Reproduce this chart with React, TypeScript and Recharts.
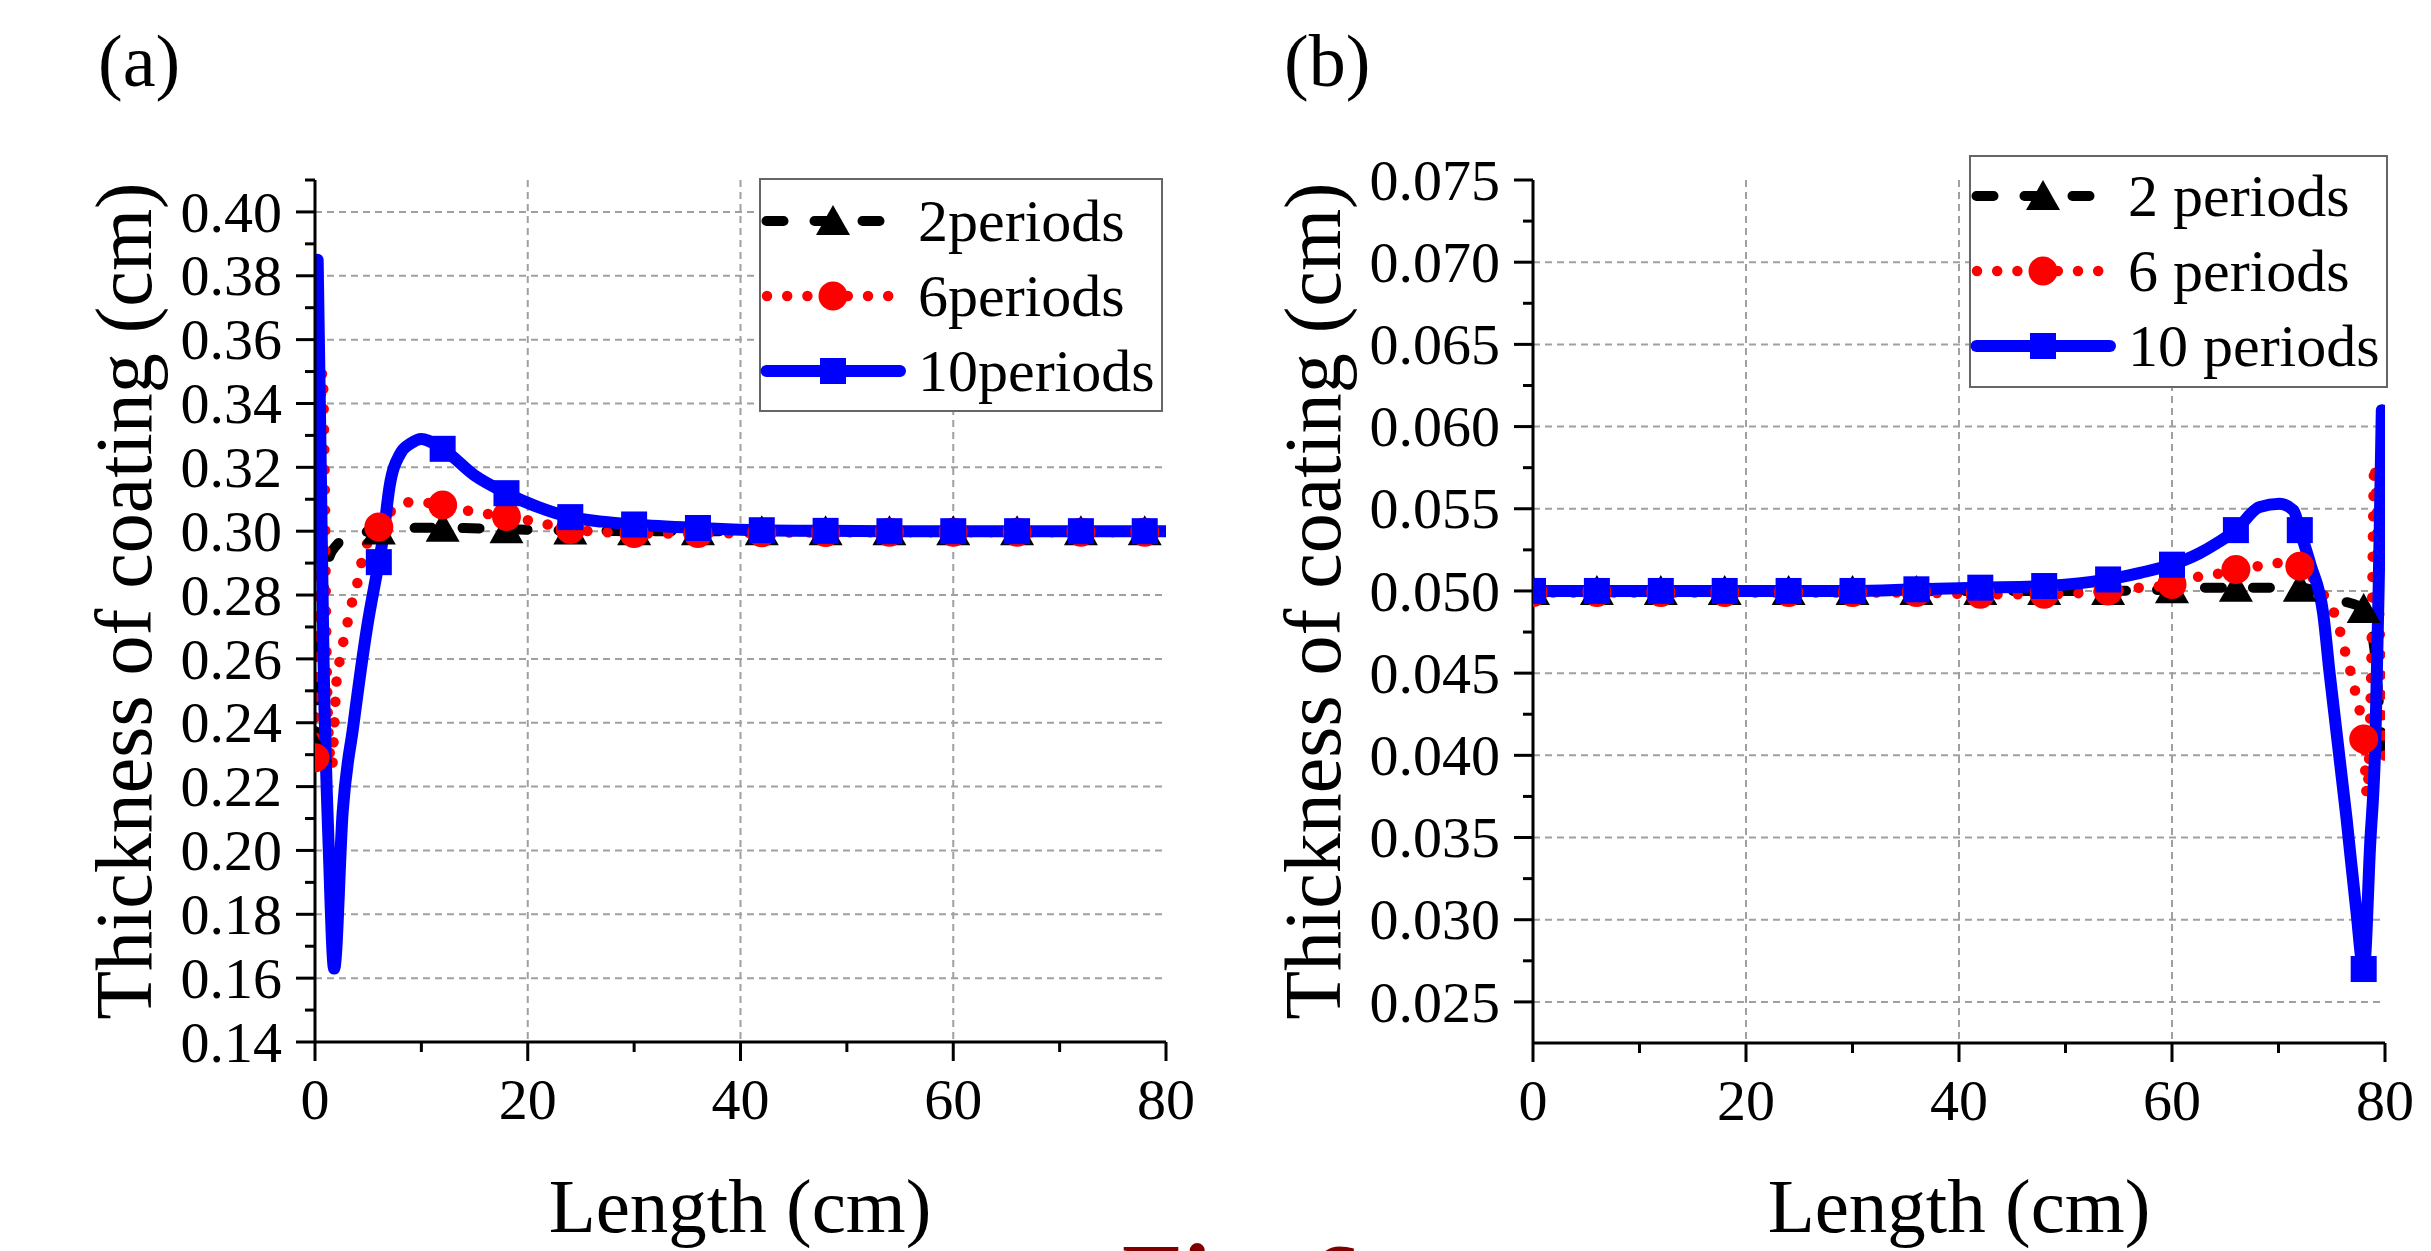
import React from 'react';
import { LineChart, Line, XAxis, YAxis, CartesianGrid, Legend } from 'recharts';

const FONT = "'Liberation Serif', 'Times New Roman', serif";

// panel (a): coating thickness along the part
const lenA2 = [0, 0.4, 0.8, 1.3, 2, 3, 4, 5, 6, 8, 10, 12, 14, 16, 18, 21, 24, 27, 30, 36, 42, 48, 54, 60, 66, 72, 78, 80];
const thkA2 = [0.232, 0.262, 0.281, 0.2915, 0.2955, 0.2982, 0.2993, 0.2999, 0.3002, 0.3008, 0.3011, 0.3011, 0.301, 0.3008, 0.3006, 0.3004, 0.3002, 0.3001, 0.3, 0.3, 0.3, 0.3, 0.3, 0.3, 0.3, 0.3, 0.3, 0.3];

const lenA6 = [0, 0.35, 0.7, 0.9, 1.05, 1.3, 1.6, 1.8, 2.0, 2.35, 2.7, 3.1, 3.5, 4.0, 4.4, 5.0, 6, 7.5, 9.2, 12, 15, 18, 21, 24, 27, 30, 36, 42, 48, 54, 60, 66, 72, 78, 80];
const thkA6 = [0.229, 0.31, 0.35, 0.32, 0.27, 0.235, 0.226, 0.238, 0.252, 0.26, 0.266, 0.272, 0.278, 0.284, 0.2906, 0.297, 0.3013, 0.3073, 0.3092, 0.3082, 0.306, 0.3046, 0.3028, 0.3005, 0.2998, 0.2993, 0.2993, 0.2995, 0.2996, 0.2997, 0.2997, 0.2997, 0.2997, 0.2997, 0.2997];

const lenA10 = [0.25, 0.5, 0.8, 1.3, 1.8, 2.6, 3.6, 4.9, 6, 6.4, 7, 8, 9, 10, 12, 15, 18, 21, 24, 27, 30, 36, 42, 48, 54, 60, 66, 72, 78, 80];
const thkA10 = [0.385, 0.33, 0.26, 0.2, 0.163, 0.212, 0.239, 0.27, 0.2903, 0.298, 0.3138, 0.3242, 0.3275, 0.3289, 0.3258, 0.3175, 0.3119, 0.3075, 0.3044, 0.303, 0.3021, 0.301, 0.3003, 0.3001, 0.3, 0.3, 0.3, 0.3, 0.3, 0.3];

// panel (b)
const lenB2 = [0, 6, 12, 18, 24, 30, 36, 42, 48, 54, 60, 63, 66, 69, 72, 74, 76, 78, 79, 79.5, 80];
const thkB2 = [0.05, 0.05, 0.05, 0.05, 0.05, 0.05, 0.05, 0.05, 0.05, 0.05, 0.0501, 0.0502, 0.0502, 0.0502, 0.0502, 0.0499, 0.0494, 0.0489, 0.0465, 0.0425, 0.0385];

const lenB6 = [0, 6, 12, 18, 24, 30, 36, 42, 48, 54, 57, 60, 62, 64, 66, 68, 70, 72, 73.2, 74.4, 75.2, 75.8, 76.3, 76.8, 77.2, 77.6, 78, 78.3, 78.7, 79.0, 79.4, 79.7, 80];
const thkB6 = [0.0499, 0.0499, 0.0499, 0.0499, 0.0499, 0.0499, 0.0499, 0.0498, 0.0498, 0.05, 0.0502, 0.0504, 0.0508, 0.051, 0.0513, 0.0515, 0.0517, 0.0515, 0.0508, 0.0496, 0.0487, 0.0475, 0.0462, 0.045, 0.0439, 0.0428, 0.041, 0.0376, 0.045, 0.0577, 0.05, 0.043, 0.0395];

const lenB10 = [0, 6, 12, 18, 24, 30, 36, 42, 48, 54, 57, 60, 62.6, 64.2, 66, 68.2, 70.1, 71.4, 72, 73, 74.2, 74.8, 76.4, 77.3, 78, 78.6, 79.1, 79.4, 79.7];
const thkB10 = [0.05, 0.05, 0.05, 0.05, 0.05, 0.05, 0.0501, 0.0502, 0.0503, 0.0507, 0.0511, 0.0516, 0.0523, 0.0529, 0.0537, 0.0551, 0.0553, 0.0549, 0.0537, 0.0516, 0.0486, 0.045, 0.0361, 0.0306, 0.027, 0.0345, 0.041, 0.05, 0.061];

// symbols sit every 6 cm
const markLen = [0, 6, 12, 18, 24, 30, 36, 42, 48, 54, 60, 66, 72, 78];

const xMajor = [0, 20, 40, 60, 80];
const xMinor = [10, 30, 50, 70];
const yMajorA = [0.14, 0.16, 0.18, 0.2, 0.22, 0.24, 0.26, 0.28, 0.3, 0.32, 0.34, 0.36, 0.38, 0.4];
const yMinorA = [0.15, 0.17, 0.19, 0.21, 0.23, 0.25, 0.27, 0.29, 0.31, 0.33, 0.35, 0.37, 0.39, 0.41];
const yMajorB = [0.025, 0.03, 0.035, 0.04, 0.045, 0.05, 0.055, 0.06, 0.065, 0.07, 0.075];
const yMinorB = [0.0275, 0.0325, 0.0375, 0.0425, 0.0475, 0.0525, 0.0575, 0.0625, 0.0675, 0.0725];

const namesA = ['2periods', '6periods', '10periods'];
const namesB = ['2 periods', '6 periods', '10 periods'];

const styles = [
  { color: '#000000', width: 10, dash: '17 31', shape: 'triangle', x1: 7.5, x2: 120.5 },
  { color: '#ff0000', width: 10.5, dash: '0 20.2', shape: 'circle', x1: 8, x2: 130 },
  { color: '#0000ff', width: 12, dash: undefined, shape: 'square', x1: 7.5, x2: 141 },
];

const pts = (xs: number[], ys: number[]) => xs.map((x, i) => ({ x, y: ys[i] }));

const Marker = ({ shape, cx, cy, color }: any) => {
  if (shape === 'triangle')
    return <polygon points={`${cx},${cy - 16} ${cx - 17},${cy + 14} ${cx + 17},${cy + 14}`} fill={color} />;
  if (shape === 'circle') return <circle cx={cx} cy={cy} r={14.5} fill={color} />;
  return <rect x={cx - 13} y={cy - 13} width={26} height={26} fill={color} />;
};

const dotFor = (shape: string, color: string) => (p: any) => (
  <g key={`m-${p.index}`}>
    {markLen.includes(p.payload.x) && <Marker shape={shape} cx={p.cx} cy={p.cy} color={color} />}
  </g>
);

const xTick = (p: any) => {
  const v = p.payload.value;
  const major = xMajor.includes(v);
  return (
    <g>
      <line x1={p.x} x2={p.x} y1={p.y} y2={p.y + (major ? 19 : 10)} stroke="#000" strokeWidth={3} />
      {major && (
        <text x={p.x} y={p.y + 77} textAnchor="middle" fontFamily={FONT} fontSize={58} fill="#000">
          {v}
        </text>
      )}
    </g>
  );
};

const yTick = (majors: number[], digits: number) => (p: any) => {
  const v = p.payload.value;
  const major = majors.includes(v);
  return (
    <g>
      <line x1={p.x - (major ? 19 : 10)} x2={p.x} y1={p.y} y2={p.y} stroke="#000" strokeWidth={3} />
      {major && (
        <text x={p.x - 33} y={p.y} dy="0.34em" textAnchor="end" fontFamily={FONT} fontSize={58} fill="#000">
          {v.toFixed(digits)}
        </text>
      )}
    </g>
  );
};

const legendBox = (names: string[], w: number, h: number, top0: number) => () => (
  <svg width={w} height={h} style={{ display: 'block' }}>
    <rect x={1} y={1} width={w - 2} height={h - 2} fill="#fff" stroke="#666" strokeWidth={2} />
    {styles.map((s, i) => {
      const cy = top0 + 75 * i;
      return (
        <g key={i}>
          <line x1={s.x1} x2={s.x2} y1={cy} y2={cy} stroke={s.color} strokeWidth={s.width}
            strokeDasharray={s.dash} strokeLinecap="round" />
          <Marker shape={s.shape} cx={74} cy={cy} color={s.color} />
          <text x={159} y={cy + 20} fontFamily={FONT} fontSize={60} fill="#000">{names[i]}</text>
        </g>
      );
    })}
  </svg>
);

type PanelProps = {
  series: { x: number; y: number }[][];
  names: string[];
  domain: [number, number];
  yMajor: number[];
  yMinor: number[];
  digits: number;
  width: number;
  axisW: number;
  right: number;
  bottom: number;
  legend: { left: number; top: number; w: number; h: number; top0: number };
};

const Panel = ({ series, names, domain, yMajor, yMinor, digits, width, axisW, right, bottom, legend }: PanelProps) => {
  const yTicks = [...yMajor, ...yMinor].sort((a, b) => a - b);
  const xTicks = [...xMajor, ...xMinor].sort((a, b) => a - b);
  return (
    <LineChart width={width} height={1251} margin={{ top: 180, right, bottom, left: 0 }}>
      <CartesianGrid horizontalValues={yMajor.filter((v) => v > domain[0] && v < domain[1] - 1e-9)}
        verticalValues={[20, 40, 60]} stroke="#a0a0a0" strokeWidth={2} strokeDasharray="7 5" />
      {series.map((d, i) => (
        <Line key={names[i]} name={names[i]} data={d} dataKey="y" type="monotone"
          stroke={styles[i].color} strokeWidth={styles[i].width} strokeDasharray={styles[i].dash}
          strokeLinecap="round" strokeLinejoin="round"
          dot={dotFor(styles[i].shape, styles[i].color)} activeDot={false} isAnimationActive={false} />
      ))}
      <XAxis type="number" dataKey="x" domain={[0, 80]} ticks={xTicks} interval={0} allowDataOverflow
        height={200} tickSize={0} tickMargin={0} tickLine={false} tick={xTick}
        axisLine={{ stroke: '#000', strokeWidth: 3 }} />
      <YAxis type="number" domain={domain} ticks={yTicks} interval={0} width={axisW}
        tickSize={0} tickMargin={0} tickLine={false} tick={yTick(yMajor, digits)}
        axisLine={{ stroke: '#000', strokeWidth: 3 }} />
      <Legend layout="vertical" align="center" verticalAlign="middle"
        wrapperStyle={{ left: legend.left, top: legend.top, width: legend.w, height: legend.h }}
        content={legendBox(names, legend.w, legend.h, legend.top0)} />
    </LineChart>
  );
};

export default function App() {
  const seriesA = [pts(lenA2, thkA2), pts(lenA6, thkA6), pts(lenA10, thkA10)];
  const seriesB = [pts(lenB2, thkB2), pts(lenB6, thkB6), pts(lenB10, thkB10)];
  const txt = { fontFamily: FONT, fill: '#000' };
  return (
    <div style={{ position: 'absolute', left: 0, top: 0, width: 2431, height: 1251, background: '#fff', overflow: 'hidden' }}>
      <div style={{ position: 'absolute', left: 0, top: 0 }}>
        <Panel series={seriesA} names={namesA} domain={[0.14, 0.41]} yMajor={yMajorA} yMinor={yMinorA}
          digits={2} width={1215} axisW={315} right={49} bottom={9}
          legend={{ left: 759, top: 178, w: 404, h: 234, top0: 43 }} />
      </div>
      <div style={{ position: 'absolute', left: 1215, top: 0 }}>
        <Panel series={seriesB} names={namesB} domain={[0.0225, 0.075]} yMajor={yMajorB} yMinor={yMinorB}
          digits={3} width={1216} axisW={318} right={46} bottom={8}
          legend={{ left: 754, top: 155, w: 419, h: 233, top0: 41 }} />
      </div>
      <svg width={2431} height={1251} style={{ position: 'absolute', left: 0, top: 0, pointerEvents: 'none' }}>
        <text x={98} y={86} fontSize={74} {...txt}>(a)</text>
        <text x={1284} y={86} fontSize={74} {...txt}>(b)</text>
        <text transform="translate(151,601) rotate(-90)" textAnchor="middle" fontSize={80} {...txt}>
          Thickness of coating (cm)
        </text>
        <text transform="translate(1340,601) rotate(-90)" textAnchor="middle" fontSize={80} {...txt}>
          Thickness of coating (cm)
        </text>
        <text x={740} y={1232} textAnchor="middle" fontSize={77} {...txt}>Length (cm)</text>
        <text x={1959} y={1232} textAnchor="middle" fontSize={77} {...txt}>Length (cm)</text>
        <text x={1122} y={1312} fontSize={100} fontWeight="bold" fontFamily={FONT} fill="#800000">Fig. 6</text>
      </svg>
    </div>
  );
}
